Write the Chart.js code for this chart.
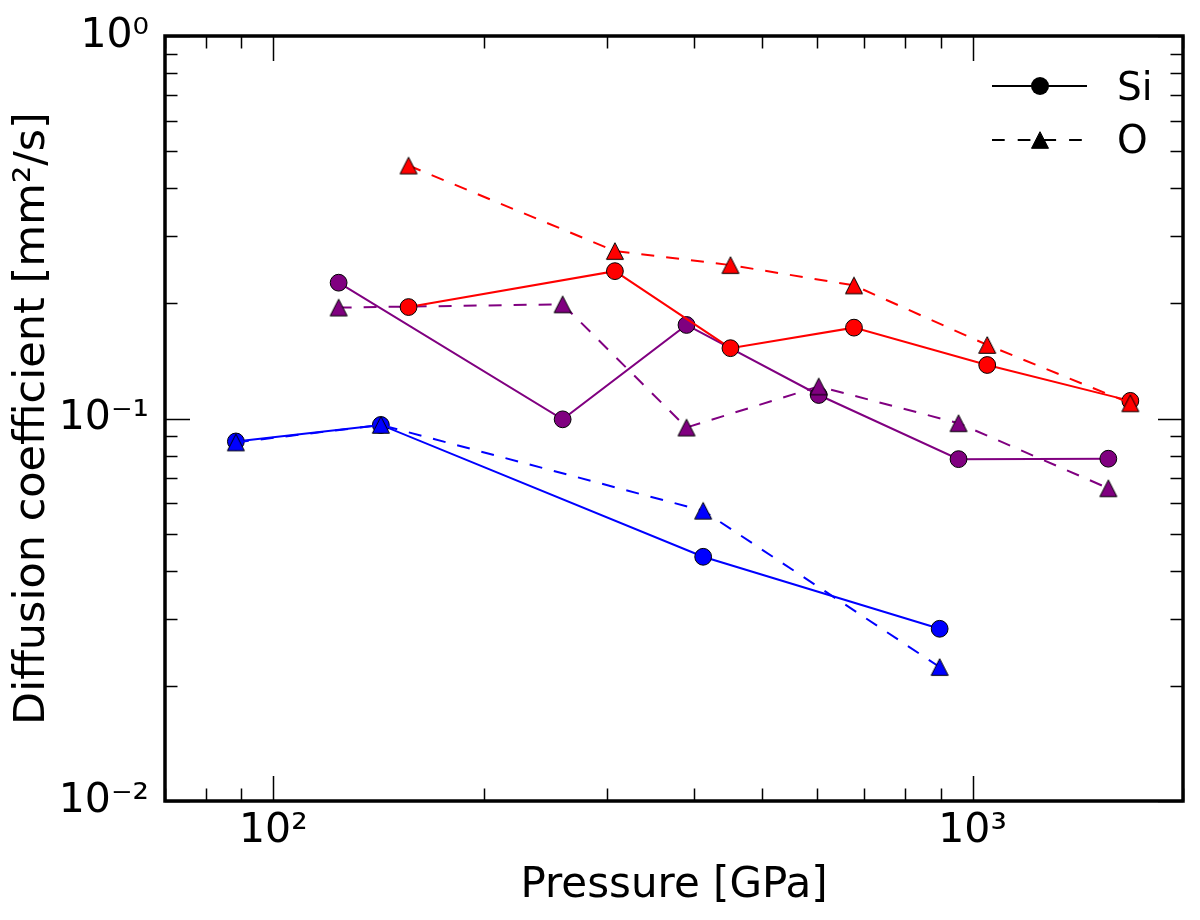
<!DOCTYPE html>
<html><head><meta charset="utf-8">
<script src="https://cdn.jsdelivr.net/npm/chart.js@4.4.1/dist/chart.umd.min.js"></script>
<style>html,body{margin:0;padding:0;background:#fff;}#wrap{width:1200px;height:920px;position:relative;}</style>
</head><body><div id="wrap"><canvas id="c" width="1200" height="920"></canvas></div>
<script>
// ---- data (pressure in GPa, diffusion coefficient in mm^2/s) ----
const pressureBlue = [88.4, 142.5, 411.9, 897.4];
const siBlue = [0.0871, 0.0962, 0.0435, 0.0282];
const oBlue = [0.0866, 0.0962, 0.0574, 0.0224];
const pressurePurple = [124, 259.3, 389.9, 602.6, 955, 1564];
const siPurple = [0.2265, 0.0995, 0.1756, 0.1152, 0.0783, 0.0785];
const oPurple = [0.195, 0.1988, 0.0947, 0.1213, 0.0972, 0.0657];
const pressureRed = [156.1, 308, 450.6, 676.8, 1049.6, 1681.6];
const siRed = [0.1956, 0.2428, 0.1527, 0.1728, 0.138, 0.1112];
const oRed = [0.4585, 0.274, 0.2518, 0.2228, 0.1557, 0.1096];

const xTickValues = [100, 1000];
const xTickLabels = ['10²', '10³'];
const xMinorTicks = [70, 80, 90, 200, 300, 400, 500, 600, 700, 800, 900, 2000];
const yTickValues = [0.01, 0.1, 1];
const yTickLabels = ['10⁻²', '10⁻¹', '10⁰'];
const yMinorTicks = [0.02, 0.03, 0.04, 0.05, 0.06, 0.07, 0.08, 0.09, 0.2, 0.3, 0.4, 0.5, 0.6, 0.7, 0.8, 0.9];
const legendLabels = ['Si', 'O'];
const xTitle = 'Pressure [GPa]';
const yTitle = 'Diffusion coefficient [mm²/s]';

const FONT = 'DejaVu Sans';

function makeTri(color) {
  const c = document.createElement('canvas');
  c.width = 20; c.height = 20;
  const g = c.getContext('2d');
  g.beginPath();
  g.moveTo(10, 1.7);
  g.lineTo(18.5, 18.3);
  g.lineTo(1.5, 18.3);
  g.closePath();
  g.fillStyle = color; g.fill();
  g.lineWidth = 1; g.strokeStyle = '#000'; g.stroke();
  return c;
}

function series(label, xs, ys, color, dashed) {
  return {
    label: label,
    data: xs.map((x, i) => ({x: x, y: ys[i]})),
    showLine: true,
    borderColor: color,
    borderWidth: 2,
    borderDash: dashed ? [13, 12] : [],
    pointStyle: dashed ? makeTri(color) : 'circle',
    pointRadius: 8.4,
    pointHoverRadius: 8.4,
    pointBackgroundColor: color,
    pointBorderColor: '#000',
    pointBorderWidth: 1,
    fill: false,
    tension: 0
  };
}

const datasets = [
  series('Red O', pressureRed, oRed, '#ff0000', true),
  series('Red Si', pressureRed, siRed, '#ff0000', false),
  series('Purple O', pressurePurple, oPurple, '#800080', true),
  series('Purple Si', pressurePurple, siPurple, '#800080', false),
  series('Blue O', pressureBlue, oBlue, '#0000ff', true),
  series('Blue Si', pressureBlue, siBlue, '#0000ff', false)
];

function labelFor(values, labels, v) {
  for (let i = 0; i < values.length; i++) {
    if (Math.abs(v - values[i]) / values[i] < 1e-6) return labels[i];
  }
  return '';
}

const framePlugin = {
  id: 'frameTicks',
  afterDatasetsDraw(chart) {
    const {ctx, chartArea, scales} = chart;
    const {left, right, top, bottom} = chartArea;
    const xs = scales.x, ys = scales.y;
    ctx.save();
    ctx.strokeStyle = '#000';
    ctx.lineWidth = 1.5;
    const MAJ = 25, MIN = 12.5;
    function xTick(v, len) {
      const px = Math.round(xs.getPixelForValue(v)) + 0.5;
      ctx.beginPath();
      ctx.moveTo(px, bottom); ctx.lineTo(px, bottom - len);
      ctx.moveTo(px, top); ctx.lineTo(px, top + len);
      ctx.stroke();
    }
    function yTick(v, len) {
      const py = Math.round(ys.getPixelForValue(v)) + 0.5;
      ctx.beginPath();
      ctx.moveTo(left, py); ctx.lineTo(left + len, py);
      ctx.moveTo(right, py); ctx.lineTo(right - len, py);
      ctx.stroke();
    }
    xMinorTicks.forEach(v => xTick(v, MIN));
    xTickValues.forEach(v => xTick(v, MAJ));
    yMinorTicks.forEach(v => yTick(v, MIN));
    yTickValues.forEach(v => yTick(v, MAJ));
    ctx.lineWidth = 3.5;
    ctx.strokeRect(left, top, right - left, bottom - top);
    ctx.restore();
  },
  afterDraw(chart) {
    const ctx = chart.ctx;
    ctx.save();
    ctx.strokeStyle = '#000';
    ctx.fillStyle = '#000';
    ctx.lineWidth = 2;
    // Si entry
    ctx.beginPath(); ctx.moveTo(992, 86); ctx.lineTo(1087, 86); ctx.stroke();
    ctx.beginPath(); ctx.arc(1040, 86, 9, 0, Math.PI * 2); ctx.fill();
    // O entry
    ctx.setLineDash([12.7, 13]);
    ctx.beginPath(); ctx.moveTo(992, 140); ctx.lineTo(1087, 140); ctx.stroke();
    ctx.setLineDash([]);
    const tri = makeTri('#000');
    ctx.drawImage(tri, 1040 - 10, 140 - 10);
    ctx.font = '39px "' + FONT + '"';
    ctx.textBaseline = 'alphabetic';
    ctx.textAlign = 'left';
    ctx.fillText(legendLabels[0], 1117, 100);
    ctx.fillText(legendLabels[1], 1117, 153);
    ctx.restore();
  }
};

new Chart(document.getElementById('c'), {
  type: 'scatter',
  data: {datasets: datasets},
  options: {
    responsive: false,
    animation: false,
    devicePixelRatio: 1,
    layout: {padding: {left: 0, top: 36, right: 17, bottom: 0}},
    plugins: {legend: {display: false}, tooltip: {enabled: false}},
    scales: {
      x: {
        type: 'logarithmic', min: 70, max: 2000, position: 'bottom',
        grid: {display: false, drawTicks: false},
        border: {display: false},
        afterBuildTicks: s => { s.ticks = xTickValues.map(v => ({value: v})); },
        afterFit: s => { s.height = 119; s.paddingLeft = 0; s.paddingRight = 0; },
        ticks: {
          autoSkip: false, maxRotation: 0, minRotation: 0, padding: 6, color: '#000',
          font: {family: FONT, size: 41},
          callback: v => labelFor(xTickValues, xTickLabels, v)
        },
        title: {display: true, text: xTitle, color: '#000', font: {family: FONT, size: 42}, padding: {top: 0, bottom: 9}}
      },
      y: {
        type: 'logarithmic', min: 0.01, max: 1, position: 'left',
        grid: {display: false, drawTicks: false},
        border: {display: false},
        afterBuildTicks: s => { s.ticks = yTickValues.map(v => ({value: v})); },
        afterFit: s => { s.width = 165; s.paddingTop = 0; s.paddingBottom = 0; },
        ticks: {
          autoSkip: false, padding: 16, color: '#000',
          font: {family: FONT, size: 41},
          callback: v => labelFor(yTickValues, yTickLabels, v)
        },
        title: {display: true, text: yTitle, color: '#000', font: {family: FONT, size: 43}, padding: {top: 7, bottom: 0}}
      }
    }
  },
  plugins: [framePlugin]
});
</script>
</body></html>
